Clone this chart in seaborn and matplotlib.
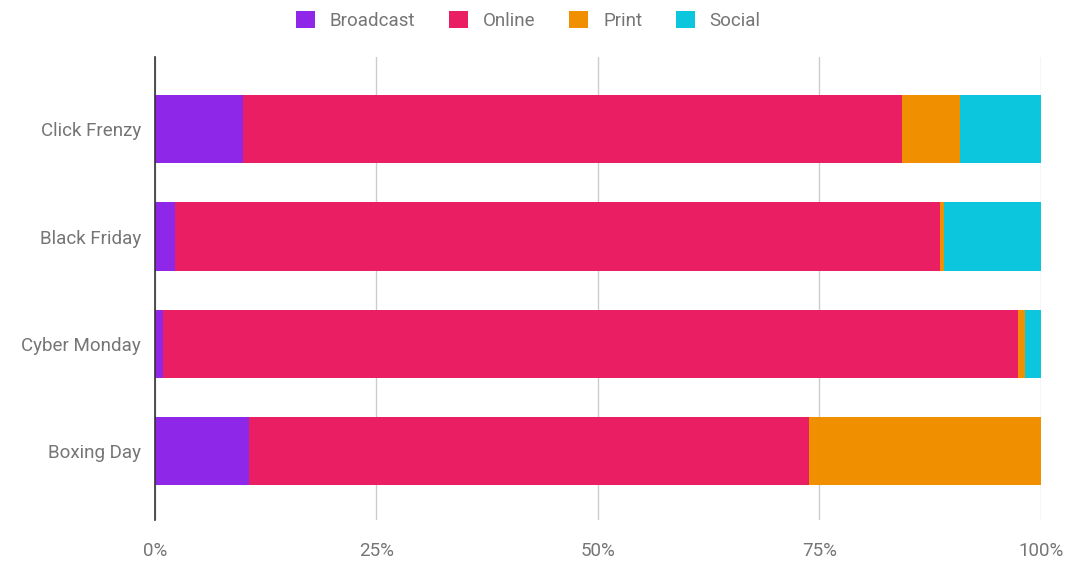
import matplotlib
matplotlib.use("Agg")
import matplotlib.pyplot as plt
from matplotlib.patches import Patch
import seaborn as sns
import numpy as np
import pandas as pd

categories = ["Click Frenzy", "Black Friday", "Cyber Monday", "Boxing Day"]
series_names = ["Broadcast", "Online", "Print", "Social"]
broadcast = [9.9, 2.2, 0.9, 10.6]
online = [74.4, 86.4, 96.5, 63.2]
print_ = [6.6, 0.5, 0.8, 26.2]
social = [9.1, 10.9, 1.8, 0.0]
xticks = [0, 25, 50, 75, 100]
xtick_labels = ["0%", "25%", "50%", "75%", "100%"]
colors = ["#8e27e8", "#e91e63", "#f09000", "#0cc6de"]

sns.set_theme(style="white")
plt.rcParams["font.family"] = ["Roboto", "DejaVu Sans"]

fig = plt.figure(figsize=(10.72, 5.61), dpi=100)
ax = fig.add_axes([0.1446, 0.0731, 0.8264, 0.8249])

values = np.array([broadcast, online, print_, social])
cum = np.cumsum(values, axis=0)

for i in range(len(series_names) - 1, -1, -1):
    df = pd.DataFrame({"category": categories, "value": cum[i]})
    sns.barplot(data=df, x="value", y="category", color=colors[i],
                saturation=1, width=0.635, orient="h", ax=ax, zorder=3,
                linewidth=0)

ax.set_xlim(0, 100)
ax.set_ylim(3.64, -0.67)
ax.set_xticks(xticks)
ax.set_xticklabels(xtick_labels)
ax.set_xlabel("")
ax.set_ylabel("")
ax.grid(axis="x", color="#cccccc", linewidth=1, zorder=0)
ax.grid(axis="y", visible=False)
for s in ["top", "right", "bottom"]:
    ax.spines[s].set_visible(False)
ax.spines["left"].set_color("#333333")
ax.spines["left"].set_linewidth(1.2)
ax.spines["left"].set_zorder(5)
ax.tick_params(axis="both", length=0, labelsize=13.5, colors="#757575")
ax.tick_params(axis="x", pad=16)
ax.tick_params(axis="y", pad=10)

handles = [Patch(facecolor=c, edgecolor="none", label=n) for c, n in zip(colors, series_names)]
leg = fig.legend(handles=handles, loc="upper center", bbox_to_anchor=(0.493, 1.01),
                 ncol=4, frameon=False, fontsize=13.5, handlelength=1.0, handleheight=1.0,
                 columnspacing=1.8, handletextpad=0.8)
for t in leg.get_texts():
    t.set_color("#757575")

fig.savefig("out.png", dpi=100)
